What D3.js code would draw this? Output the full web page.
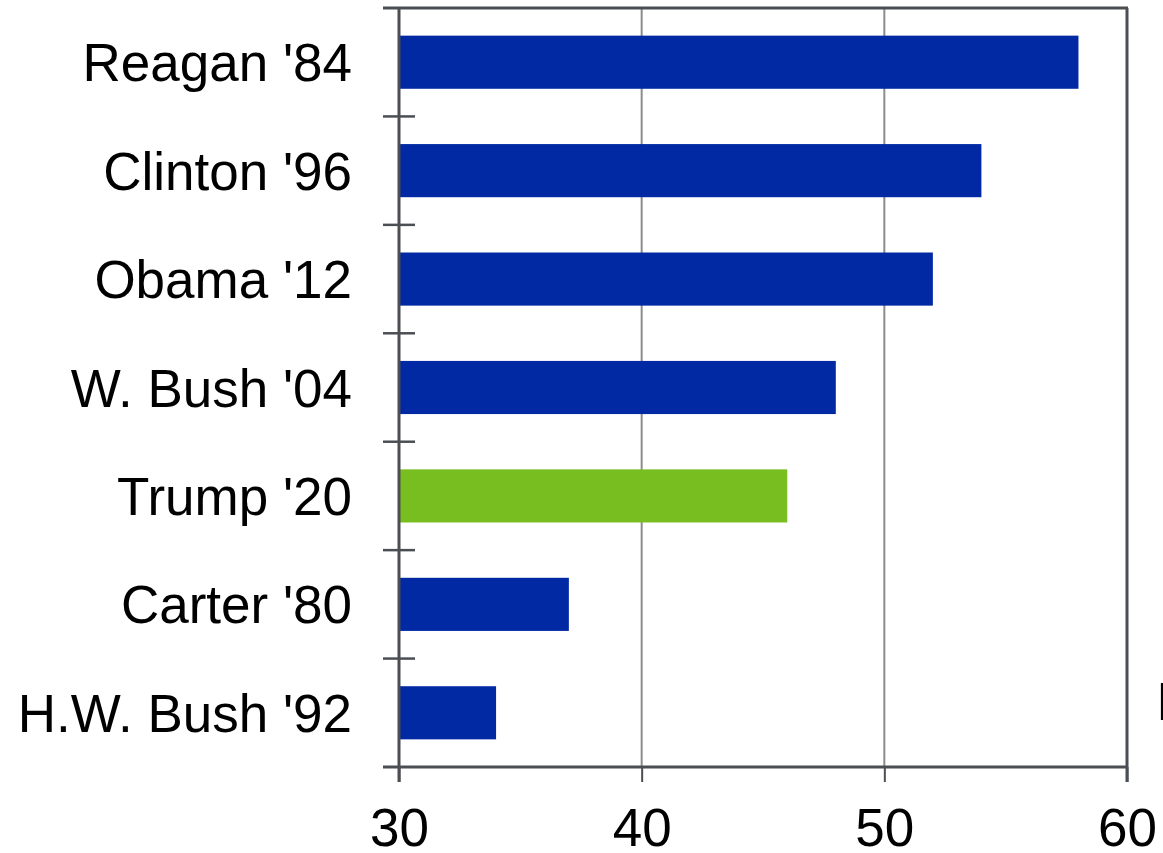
<!DOCTYPE html>
<html>
<head>
<meta charset="utf-8">
<script src="https://cdn.jsdelivr.net/npm/d3@7"></script>
<style>
  html, body { margin: 0; padding: 0; background: #fff; overflow: hidden; }
  svg { display: block; font-family: "Liberation Sans", Arial, sans-serif; }
</style>
</head>
<body>
<svg id="chart" width="1163" height="853"></svg>
<script>
// Approval ratings at re-election time
const candidates = ["Reagan '84", "Clinton '96", "Obama '12", "W. Bush '04", "Trump '20", "Carter '80", "H.W. Bush '92"];
const approval   = [58, 54, 52, 48, 46, 37, 34];
const highlight  = ["Trump '20"];
const xTicks     = [30, 40, 50, 60];
const sideNote   = ["I"];

const plotLeft = 399, plotRight = 1127, plotTop = 8, plotBottom = 767;
const frameColor = "#4b4f54";
const gridColor = "#8c8c8c";
const barColor = "#0029a3";
const hiColor = "#79be21";

const svg = d3.select("#chart");

const x = d3.scaleLinear().domain([30, 60]).range([plotLeft, plotRight]);
const y = d3.scaleBand().domain(candidates).range([plotTop, plotBottom])
  .paddingInner(0.51).paddingOuter(0.255);

// vertical gridlines
svg.append("g").selectAll("line")
  .data(xTicks.filter(v => v > 30 && v < 60))
  .join("line")
  .attr("x1", d => x(d)).attr("x2", d => x(d))
  .attr("y1", plotTop).attr("y2", plotBottom)
  .attr("stroke", gridColor).attr("stroke-width", 2);

// bars
svg.append("g").selectAll("rect")
  .data(candidates.map((c, i) => ({ c, v: approval[i] })))
  .join("rect")
  .attr("x", x(30))
  .attr("y", d => y(d.c))
  .attr("width", d => x(d.v) - x(30))
  .attr("height", y.bandwidth())
  .attr("fill", d => highlight.includes(d.c) ? hiColor : barColor);

// frame: top and right edges
svg.append("line").attr("x1", plotLeft - 16).attr("x2", plotRight + 1)
  .attr("y1", plotTop).attr("y2", plotTop)
  .attr("stroke", frameColor).attr("stroke-width", 3);
svg.append("line").attr("x1", plotRight).attr("x2", plotRight)
  .attr("y1", plotTop).attr("y2", plotBottom + 15)
  .attr("stroke", frameColor).attr("stroke-width", 3);

// bottom axis
const xAxis = svg.append("g")
  .attr("transform", `translate(0,${plotBottom})`)
  .call(d3.axisBottom(x).tickValues(xTicks).tickSize(15).tickSizeOuter(0).tickFormat(d3.format("d")));
xAxis.select(".domain").remove();
xAxis.selectAll(".tick line").attr("stroke", frameColor).attr("stroke-width", 2);
xAxis.selectAll(".tick text")
  .attr("y", 79).attr("dy", null)
  .attr("fill", "#000")
  .style("font-size", "53px")
  .style("font-family", "'Liberation Sans', Arial, sans-serif");
svg.append("line").attr("x1", plotLeft - 16).attr("x2", plotRight)
  .attr("y1", plotBottom).attr("y2", plotBottom)
  .attr("stroke", frameColor).attr("stroke-width", 3);

// left axis with ticks at category boundaries
const step = y.step();
const start = y.range()[0];
const bounds = d3.range(candidates.length + 1).map(i => start + i * step);
svg.append("g").selectAll("line")
  .data(bounds.slice(1, -1))
  .join("line")
  .attr("x1", plotLeft - 16).attr("x2", plotLeft + 16)
  .attr("y1", d => d).attr("y2", d => d)
  .attr("stroke", frameColor).attr("stroke-width", 2.5);
svg.append("line").attr("x1", plotLeft).attr("x2", plotLeft)
  .attr("y1", plotTop - 1).attr("y2", plotBottom + 15)
  .attr("stroke", frameColor).attr("stroke-width", 3);

// category labels
svg.append("g").selectAll("text")
  .data(candidates)
  .join("text")
  .attr("x", 352)
  .attr("y", d => y(d) + y.bandwidth() / 2 + 19)
  .attr("text-anchor", "end")
  .attr("fill", "#000")
  .style("font-size", "53px")
  .text(d => d);

// side note, partly off the right edge
svg.append("text")
  .attr("x", 1156).attr("y", 720)
  .attr("fill", "#000")
  .style("font-size", "53px")
  .text(sideNote[0]);
</script>
</body>
</html>
